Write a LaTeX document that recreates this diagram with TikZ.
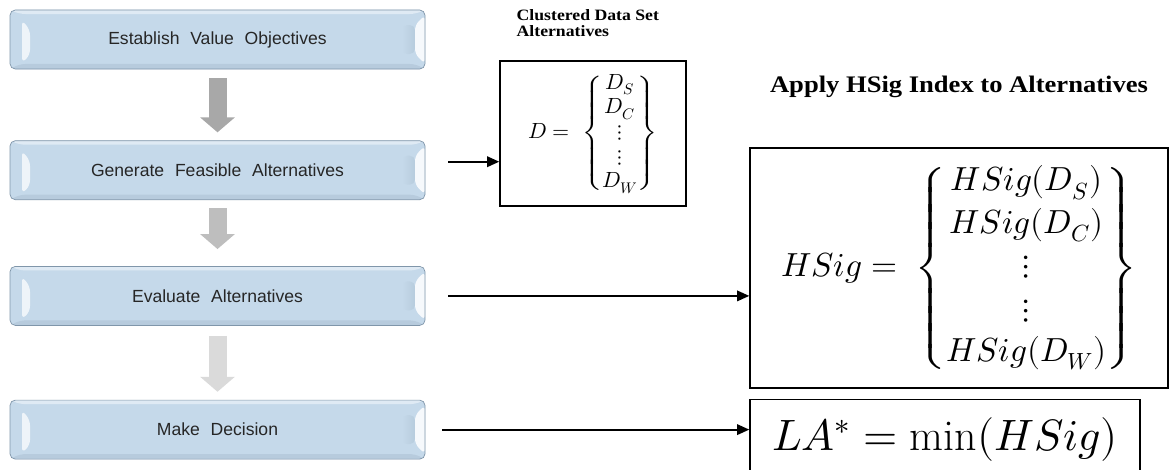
\documentclass[tikz,border=0pt]{standalone}
\usepackage{amsmath}
\usepackage{fontspec}
\usepackage{unicode-math}
\usepackage{xcolor}
\usepackage{tikz}
\usetikzlibrary{arrows.meta,positioning,calc}

\newfontfamily\stepfont{Liberation Sans}[WordSpace=2.2]
\newfontfamily\headfont{Liberation Serif}[FakeStretch=1.12]

\definecolor{stepblue}{RGB}{197,217,234}
\definecolor{stepedge}{RGB}{128,150,170}
\definecolor{steptext}{RGB}{38,38,38}
\definecolor{flowA}{RGB}{168,168,168}
\definecolor{flowB}{RGB}{190,190,190}
\definecolor{flowC}{RGB}{218,218,218}

\begin{document}
\begin{tikzpicture}[
  stepbox/.style={rectangle, draw=stepedge, fill=stepblue, rounded corners=3pt,
    minimum width=8.3cm, minimum height=1.18cm, text=steptext,
    font=\stepfont\fontsize{10}{12}\selectfont,
    path picture={
      \coordinate (bnw) at (path picture bounding box.north west);
      \coordinate (bse) at (path picture bounding box.south east);
      % top and bottom bands
      \fill[stepblue!55!white] (bnw) -- (bnw -| bse) -- ($(bnw -| bse)+(-0.2,-0.08)$)
        -- ($(bnw)+(0.2,-0.08)$) -- cycle;
      \fill[stepblue!80!stepedge] (bse) -- (bse -| bnw) -- ($(bse -| bnw)+(0.2,0.1)$)
        -- ($(bse)+(-0.2,0.1)$) -- cycle;
      % left face
      \fill[white!70!stepblue] ($(bnw)+(0.24,-0.2)$) -- ($(bnw)+(0.4,-0.4)$)
        -- ($(bse -| bnw)+(0.4,0.28)$) -- ($(bse -| bnw)+(0.24,0.12)$) -- cycle;
      % right face
      \shade[left color=stepblue, right color=stepblue!80!stepedge]
        ($(bnw -| bse)+(-0.46,-0.3)$) rectangle ($(bse)+(-0.2,0.3)$);
      \fill[white!85!stepblue] ($(bnw -| bse)+(0,-0.1)$) -- ($(bnw -| bse)+(-0.2,-0.3)$)
        -- ($(bse)+(-0.2,0.3)$) -- ($(bse)+(0,0.1)$) -- cycle;
    }},
  flow/.style={line width=0.36cm, -{Triangle[width=0.68cm, length=0.3cm]}},
  setbox/.style={rectangle, draw, line width=0.8pt, inner sep=0pt},
  conn/.style={-{Triangle[length=7pt, width=6pt]}, line width=1.1pt},
  clustered/.style={font=\headfont\bfseries\fontsize{9}{9.5}\selectfont,
    align=left, inner sep=0pt},
  head/.style={font=\headfont\bfseries\fontsize{13.5}{15}\selectfont, inner sep=0pt}
]
  \useasboundingbox (0,0) rectangle (23.38,-9.38);

  % decision steps
  \node[stepbox] (est) at (4.35,-0.79) {Establish Value Objectives};
  \node[stepbox, below=1.42cm of est] (gen) {Generate Feasible Alternatives};
  \node[stepbox, below=1.32cm of gen] (eval) {Evaluate Alternatives};
  \node[stepbox, below=1.48cm of eval] (dec) {Make Decision};

  \draw[flow, flowA, shorten <=0.18cm, shorten >=0.16cm] (est) -- (gen);
  \draw[flow, flowB, shorten <=0.16cm, shorten >=0.34cm] (gen) -- (eval);
  \draw[flow, flowC, shorten <=0.2cm, shorten >=0.16cm] (eval) -- (dec);

  % data set and index
  \node[setbox, minimum width=3.72cm, minimum height=2.9cm] (dset) at (11.86,-2.67)
    {\fontsize{12.5}{14}\selectfont
     $D =\; \left\{\begin{matrix} D_S\\ D_C\\ \vdots\\ \vdots\\ D_W \end{matrix}\right\}$};
  \node[clustered, anchor=south west] (dtitle)
    at ([xshift=0.34cm, yshift=0.46cm]dset.north west)
    {Clustered Data Set\\Alternatives};

  \node[setbox, minimum width=8.36cm, minimum height=4.8cm] (hsig) at (19.18,-5.36)
    {\fontsize{19}{23}\selectfont
     $HSig =\; \left\{\begin{matrix} HSig(D_S)\\[1pt] HSig(D_C)\\[1pt] \vdots\\[2pt] \vdots\\[1pt] HSig(D_W) \end{matrix}\right\}$};
  \node[head, above=0.98cm of hsig] (htitle) {Apply HSig Index to Alternatives};

  \node[setbox, below=0.2cm of hsig.south west, anchor=north west,
    minimum width=7.8cm, minimum height=1.6cm] (la)
    {\fontsize{25}{30}\selectfont $LA^{*} = \min(HSig)$};

  \draw[conn] ($(gen.east)+(0.46,0.17)$) -- ($(gen.east -| dset.west)+(0,0.17)$);
  \draw[conn] ([xshift=0.46cm]eval.east) -- (eval.east -| hsig.west);
  \draw[conn] ([xshift=0.34cm]dec.east) -- (dec.east -| la.west);
\end{tikzpicture}
\end{document}
